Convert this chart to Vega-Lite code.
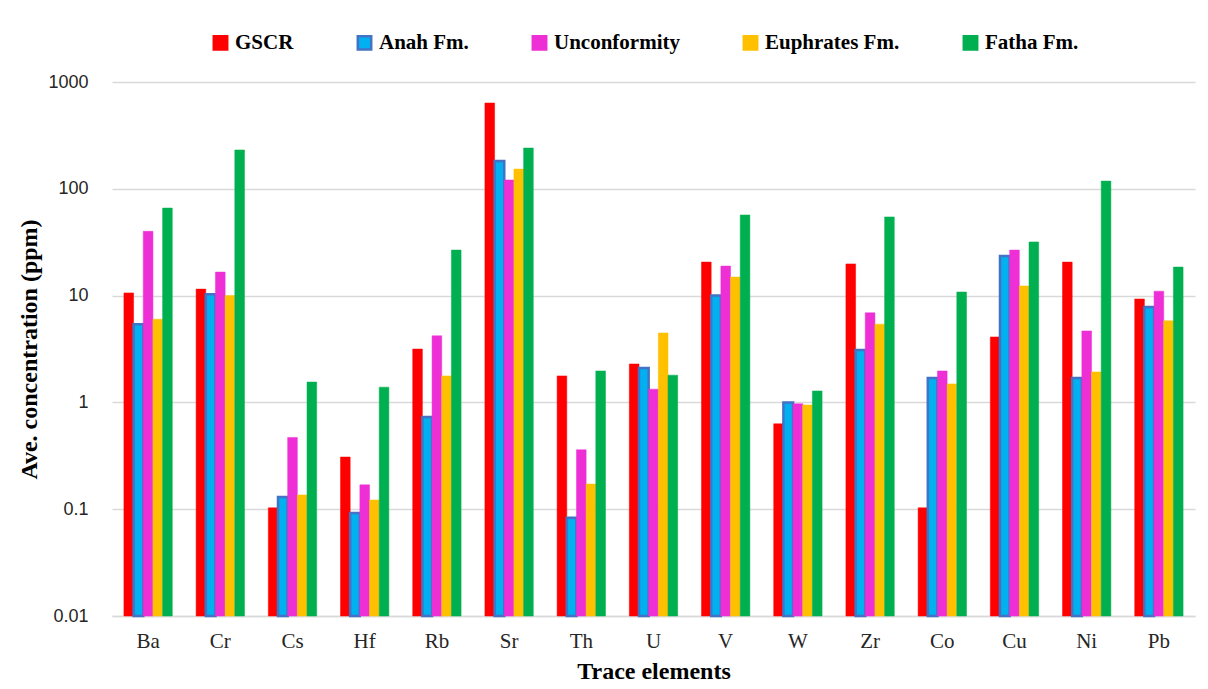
{
  "$schema": "https://vega.github.io/schema/vega-lite/v6.json",
  "width": 1083,
  "height": 534,
  "autosize": {"type": "none"},
  "padding": {"left": 112, "top": 82, "right": 13, "bottom": 73},
  "background": "white",
  "config": {
    "view": {"stroke": null},
    "font": "Liberation Serif"
  },
  "data": {
    "values": [
      {"element": "Ba", "series": "GSCR", "value": 10.6},
      {"element": "Ba", "series": "Anah Fm.", "value": 5.4},
      {"element": "Ba", "series": "Unconformity", "value": 40},
      {"element": "Ba", "series": "Euphrates Fm.", "value": 6.0},
      {"element": "Ba", "series": "Fatha Fm.", "value": 66},
      {"element": "Cr", "series": "GSCR", "value": 11.5},
      {"element": "Cr", "series": "Anah Fm.", "value": 10.3},
      {"element": "Cr", "series": "Unconformity", "value": 16.6},
      {"element": "Cr", "series": "Euphrates Fm.", "value": 10.0},
      {"element": "Cr", "series": "Fatha Fm.", "value": 231},
      {"element": "Cs", "series": "GSCR", "value": 0.103},
      {"element": "Cs", "series": "Anah Fm.", "value": 0.13},
      {"element": "Cs", "series": "Unconformity", "value": 0.47},
      {"element": "Cs", "series": "Euphrates Fm.", "value": 0.136},
      {"element": "Cs", "series": "Fatha Fm.", "value": 1.55},
      {"element": "Hf", "series": "GSCR", "value": 0.308},
      {"element": "Hf", "series": "Anah Fm.", "value": 0.092},
      {"element": "Hf", "series": "Unconformity", "value": 0.169},
      {"element": "Hf", "series": "Euphrates Fm.", "value": 0.122},
      {"element": "Hf", "series": "Fatha Fm.", "value": 1.39},
      {"element": "Rb", "series": "GSCR", "value": 3.16},
      {"element": "Rb", "series": "Anah Fm.", "value": 0.73},
      {"element": "Rb", "series": "Unconformity", "value": 4.2},
      {"element": "Rb", "series": "Euphrates Fm.", "value": 1.77},
      {"element": "Rb", "series": "Fatha Fm.", "value": 26.7},
      {"element": "Sr", "series": "GSCR", "value": 636},
      {"element": "Sr", "series": "Anah Fm.", "value": 182},
      {"element": "Sr", "series": "Unconformity", "value": 121},
      {"element": "Sr", "series": "Euphrates Fm.", "value": 153},
      {"element": "Sr", "series": "Fatha Fm.", "value": 241},
      {"element": "Th", "series": "GSCR", "value": 1.77},
      {"element": "Th", "series": "Anah Fm.", "value": 0.083},
      {"element": "Th", "series": "Unconformity", "value": 0.36},
      {"element": "Th", "series": "Euphrates Fm.", "value": 0.172},
      {"element": "Th", "series": "Fatha Fm.", "value": 1.97},
      {"element": "U", "series": "GSCR", "value": 2.29},
      {"element": "U", "series": "Anah Fm.", "value": 2.1},
      {"element": "U", "series": "Unconformity", "value": 1.33},
      {"element": "U", "series": "Euphrates Fm.", "value": 4.47},
      {"element": "U", "series": "Fatha Fm.", "value": 1.8},
      {"element": "V", "series": "GSCR", "value": 20.6},
      {"element": "V", "series": "Anah Fm.", "value": 10.0},
      {"element": "V", "series": "Unconformity", "value": 18.9},
      {"element": "V", "series": "Euphrates Fm.", "value": 14.9},
      {"element": "V", "series": "Fatha Fm.", "value": 56.9},
      {"element": "W", "series": "GSCR", "value": 0.63},
      {"element": "W", "series": "Anah Fm.", "value": 1.0},
      {"element": "W", "series": "Unconformity", "value": 0.97},
      {"element": "W", "series": "Euphrates Fm.", "value": 0.946},
      {"element": "W", "series": "Fatha Fm.", "value": 1.28},
      {"element": "Zr", "series": "GSCR", "value": 19.8},
      {"element": "Zr", "series": "Anah Fm.", "value": 3.1},
      {"element": "Zr", "series": "Unconformity", "value": 6.9},
      {"element": "Zr", "series": "Euphrates Fm.", "value": 5.4},
      {"element": "Zr", "series": "Fatha Fm.", "value": 54.5},
      {"element": "Co", "series": "GSCR", "value": 0.103},
      {"element": "Co", "series": "Anah Fm.", "value": 1.69},
      {"element": "Co", "series": "Unconformity", "value": 1.97},
      {"element": "Co", "series": "Euphrates Fm.", "value": 1.49},
      {"element": "Co", "series": "Fatha Fm.", "value": 10.8},
      {"element": "Cu", "series": "GSCR", "value": 4.1},
      {"element": "Cu", "series": "Anah Fm.", "value": 23.5},
      {"element": "Cu", "series": "Unconformity", "value": 26.7},
      {"element": "Cu", "series": "Euphrates Fm.", "value": 12.3},
      {"element": "Cu", "series": "Fatha Fm.", "value": 31.8},
      {"element": "Ni", "series": "GSCR", "value": 20.6},
      {"element": "Ni", "series": "Anah Fm.", "value": 1.69},
      {"element": "Ni", "series": "Unconformity", "value": 4.67},
      {"element": "Ni", "series": "Euphrates Fm.", "value": 1.93},
      {"element": "Ni", "series": "Fatha Fm.", "value": 118},
      {"element": "Pb", "series": "GSCR", "value": 9.3},
      {"element": "Pb", "series": "Anah Fm.", "value": 7.8},
      {"element": "Pb", "series": "Unconformity", "value": 11.0},
      {"element": "Pb", "series": "Euphrates Fm.", "value": 5.8},
      {"element": "Pb", "series": "Fatha Fm.", "value": 18.5}
    ]
  },
  "mark": {"type": "bar"},
  "encoding": {
    "x": {
      "field": "element",
      "type": "nominal",
      "sort": ["Ba", "Cr", "Cs", "Hf", "Rb", "Sr", "Th", "U", "V", "W", "Zr", "Co", "Cu", "Ni", "Pb"],
      "scale": {"paddingInner": 0.33, "paddingOuter": 0.165},
      "axis": {
        "title": "Trace elements",
        "labelAngle": 0,
        "labelFont": "Liberation Serif",
        "labelFontSize": 21,
        "labelColor": "#262626",
        "labelPadding": 14,
        "ticks": false,
        "domainColor": "#D9D9D9",
        "domainWidth": 1.5,
        "titleFont": "Liberation Serif",
        "titleFontSize": 24,
        "titleFontWeight": "bold",
        "titleColor": "black",
        "titlePadding": 8
      }
    },
    "xOffset": {
      "field": "series",
      "type": "nominal",
      "sort": ["GSCR", "Anah Fm.", "Unconformity", "Euphrates Fm.", "Fatha Fm."],
      "scale": {"paddingInner": 0, "paddingOuter": 0}
    },
    "y": {
      "field": "value",
      "type": "quantitative",
      "scale": {"type": "log", "domain": [0.01, 1000], "nice": false},
      "axis": {
        "title": "Ave. concentration (ppm)",
        "values": [0.01, 0.1, 1, 10, 100, 1000],
        "format": "~g",
        "labelFont": "Liberation Sans",
        "labelFontSize": 18,
        "labelColor": "#262626",
        "labelPadding": 24,
        "ticks": false,
        "domain": false,
        "gridColor": "#D9D9D9",
        "gridWidth": 1.5,
        "titleFont": "Liberation Serif",
        "titleFontSize": 24,
        "titleFontWeight": "bold",
        "titleColor": "black",
        "titlePadding": 6
      }
    },
    "y2": {"datum": 0.01},
    "fill": {
      "field": "series",
      "type": "nominal",
      "scale": {
        "domain": ["GSCR", "Anah Fm.", "Unconformity", "Euphrates Fm.", "Fatha Fm."],
        "range": ["#FF0000", "#00B0F0", "#EE2FD6", "#FFC000", "#00B050"]
      },
      "legend": {
        "title": null,
        "orient": "none",
        "legendX": 98,
        "legendY": -50,
        "direction": "horizontal",
        "columns": 5,
        "columnPadding": 58,
        "symbolType": "square",
        "symbolSize": 180,
        "symbolStrokeWidth": 2.5,
        "labelFont": "Liberation Serif",
        "labelFontSize": 21,
        "labelFontWeight": "bold",
        "labelColor": "black",
        "labelOffset": 4
      }
    },
    "stroke": {
      "field": "series",
      "type": "nominal",
      "scale": {
        "domain": ["GSCR", "Anah Fm.", "Unconformity", "Euphrates Fm.", "Fatha Fm."],
        "range": ["#FF0000", "#4472C4", "#EE2FD6", "#FFC000", "#00B050"]
      },
      "legend": {
        "title": null,
        "orient": "none",
        "legendX": 98,
        "legendY": -50,
        "direction": "horizontal",
        "columns": 5,
        "columnPadding": 58,
        "symbolType": "square",
        "symbolSize": 180,
        "symbolStrokeWidth": 2.5,
        "labelFont": "Liberation Serif",
        "labelFontSize": 21,
        "labelFontWeight": "bold",
        "labelColor": "black",
        "labelOffset": 4
      }
    },
    "strokeWidth": {
      "condition": {"test": "datum.series === 'Anah Fm.'", "value": 2.5},
      "value": 0.5
    }
  }
}
